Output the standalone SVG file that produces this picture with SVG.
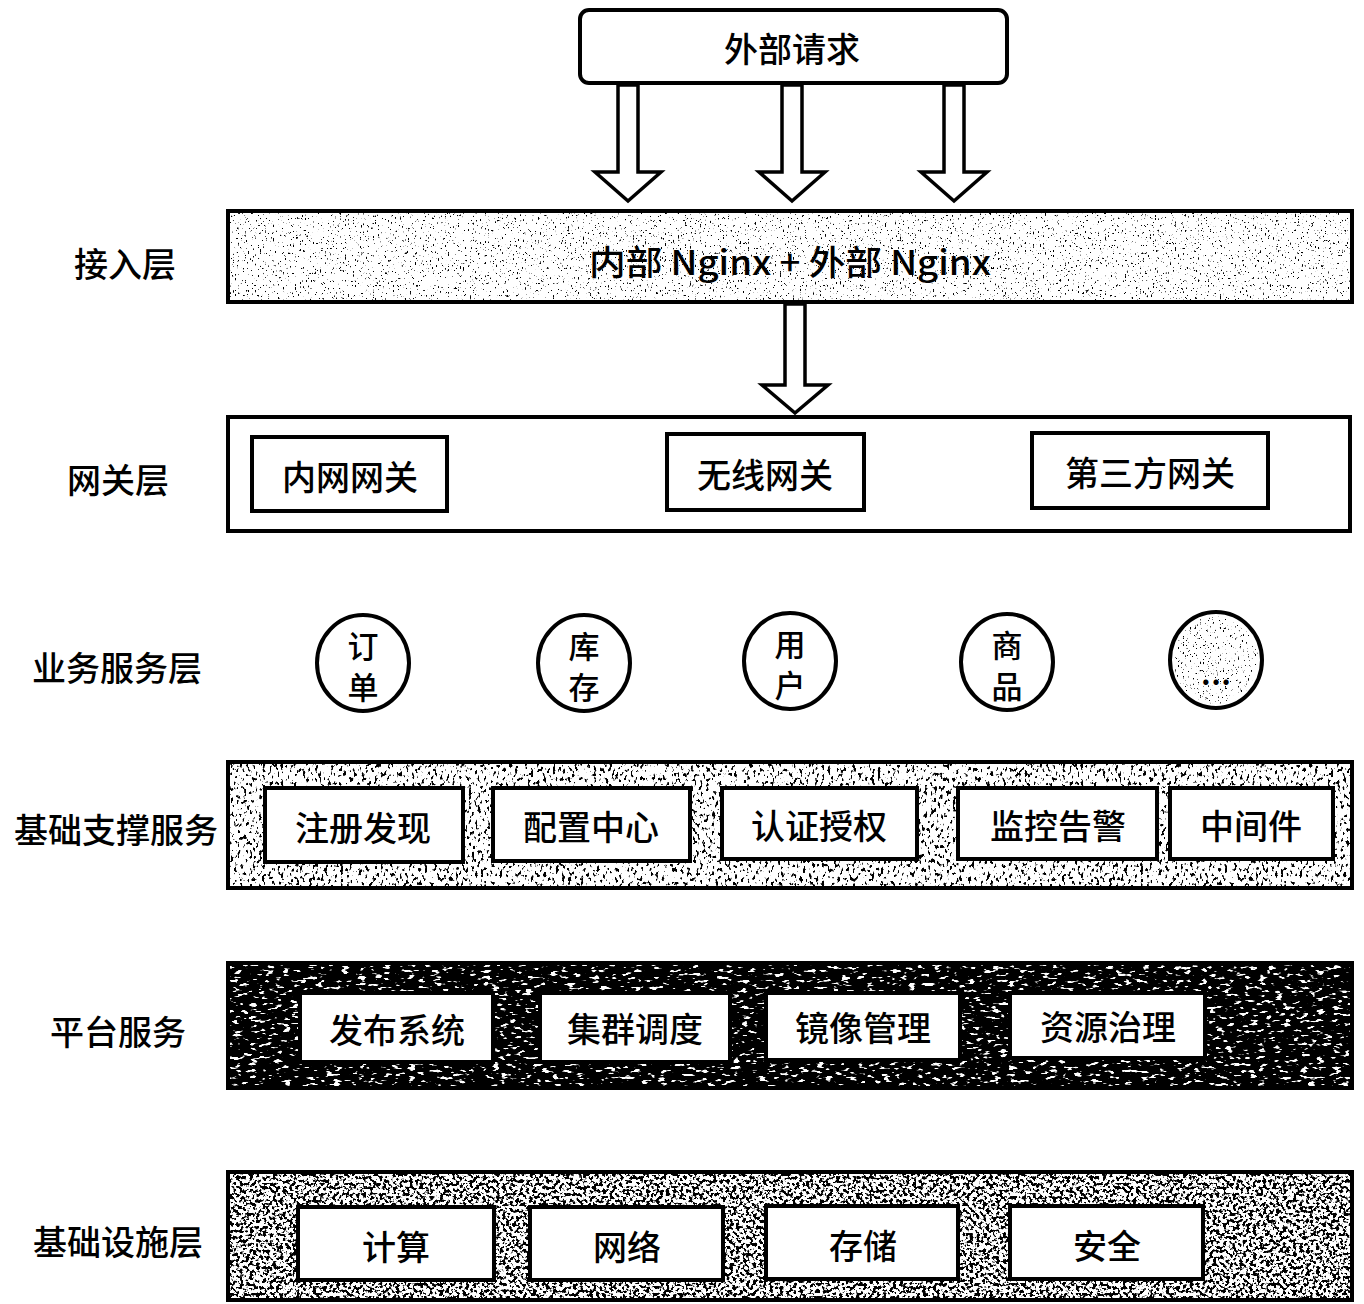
<svg xmlns="http://www.w3.org/2000/svg" width="1364" height="1304" viewBox="0 0 1364 1304">
<defs>
<style>
text{font-family:"Noto Sans CJK SC","Noto Sans",sans-serif;font-size:34px;font-weight:500;fill:#000;text-anchor:middle;dominant-baseline:central}
.band{fill:none;stroke:#000;stroke-width:4}
.box{fill:#fff;stroke:#000;stroke-width:4}
.circ{fill:#fff;stroke:#000;stroke-width:4}
.arrow{fill:#fff;stroke:#000;stroke-width:3.5;stroke-linejoin:miter}
.c{font-size:31px}
</style>
<filter id="nLight" x="0" y="0" width="100%" height="100%">
<feTurbulence type="fractalNoise" baseFrequency="0.6 0.4" numOctaves="2" seed="4"/>
<feColorMatrix type="matrix" values="0 0 0 0 0  0 0 0 0 0  0 0 0 0 0  14 0 0 0 -9.3"/>
<feComposite operator="in" in2="SourceGraphic"/>
</filter>
<filter id="nMed" x="0" y="0" width="100%" height="100%">
<feTurbulence type="fractalNoise" baseFrequency="0.32 0.22" numOctaves="2" seed="9"/>
<feColorMatrix type="matrix" values="0 0 0 0 0  0 0 0 0 0  0 0 0 0 0  14 0 0 0 -8.2"/>
<feComposite operator="in" in2="SourceGraphic"/>
</filter>
<filter id="nDark" x="0" y="0" width="100%" height="100%">
<feTurbulence type="fractalNoise" baseFrequency="0.12 0.3" numOctaves="2" seed="2"/>
<feColorMatrix type="matrix" values="0 0 0 0 0  0 0 0 0 0  0 0 0 0 0  14 0 0 0 -4.6"/>
<feComposite operator="in" in2="SourceGraphic"/>
</filter>
<filter id="nInfra" x="0" y="0" width="100%" height="100%">
<feTurbulence type="fractalNoise" baseFrequency="0.3 0.3" numOctaves="2" seed="7"/>
<feColorMatrix type="matrix" values="0 0 0 0 0  0 0 0 0 0  0 0 0 0 0  14 0 0 0 -7.0"/>
<feComposite operator="in" in2="SourceGraphic"/>
</filter>
</defs>
<rect width="1364" height="1304" fill="#fff"/>

<g id="labels">
<text x="125" y="262">接入层</text>
<text x="118" y="478">网关层</text>
<text x="117" y="666">业务服务层</text>
<text x="116" y="828">基础支撑服务</text>
<text x="118" y="1030">平台服务</text>
<text x="118" y="1240">基础设施层</text>
</g>

<g id="external-request">
<rect x="580" y="10" width="427" height="73" rx="9" class="box" stroke-width="3"/>
<text x="792" y="47">外部请求</text>
</g>

<g id="access-layer">
<rect x="228" y="211" width="1124" height="91" fill="#fff"/>
<rect x="230" y="213" width="1120" height="87" fill="#000" filter="url(#nLight)"/>
<rect x="228" y="211" width="1124" height="91" class="band"/>
<text x="790" y="260" textLength="402" lengthAdjust="spacingAndGlyphs">内部 Nginx + 外部 Nginx</text>
</g>

<g id="gateway-layer">
<rect x="228" y="417" width="1122" height="114" fill="#fff" class="band"/>
<g id="gw-intranet"><rect x="252" y="437" width="195" height="74" class="box"/><text x="350" y="475">内网网关</text></g>
<g id="gw-wireless"><rect x="667" y="434" width="197" height="76" class="box"/><text x="765" y="473">无线网关</text></g>
<g id="gw-thirdparty"><rect x="1032" y="433" width="236" height="75" class="box"/><text x="1150" y="471">第三方网关</text></g>
</g>

<g id="business-layer">
<g id="svc-order"><ellipse cx="363" cy="663" rx="46" ry="48" class="circ"/><text x="363" y="644" class="c">订</text><text x="363" y="685" class="c">单</text></g>
<g id="svc-stock"><ellipse cx="584" cy="663" rx="46" ry="48" class="circ"/><text x="584" y="644" class="c">库</text><text x="584" y="685" class="c">存</text></g>
<g id="svc-user"><ellipse cx="790" cy="661" rx="46" ry="48" class="circ"/><text x="790" y="642" class="c">用</text><text x="790" y="683" class="c">户</text></g>
<g id="svc-goods"><ellipse cx="1007" cy="662" rx="46" ry="48" class="circ"/><text x="1007" y="643" class="c">商</text><text x="1007" y="684" class="c">品</text></g>
<g id="svc-more"><ellipse cx="1216" cy="660" rx="46" ry="48" class="circ"/><ellipse cx="1216" cy="660" rx="42" ry="44" fill="#000" filter="url(#nLight)"/><text x="1216" y="670" font-size="16">...</text></g>
</g>

<g id="support-layer">
<rect x="228" y="762" width="1124" height="126" fill="#fff"/>
<rect x="230" y="764" width="1120" height="122" fill="#000" filter="url(#nMed)"/>
<rect x="228" y="762" width="1124" height="126" class="band"/>
<g id="sup-registry"><rect x="265" y="788" width="198" height="74" class="box"/><text x="363" y="826">注册发现</text></g>
<g id="sup-config"><rect x="493" y="788" width="197" height="73" class="box"/><text x="591" y="825">配置中心</text></g>
<g id="sup-auth"><rect x="722" y="788" width="195" height="71" class="box"/><text x="819" y="824">认证授权</text></g>
<g id="sup-monitor"><rect x="958" y="788" width="199" height="71" class="box"/><text x="1058" y="824">监控告警</text></g>
<g id="sup-middleware"><rect x="1170" y="788" width="163" height="71" class="box"/><text x="1251" y="824">中间件</text></g>
</g>

<g id="platform-layer">
<rect x="228" y="963" width="1124" height="125" fill="#fff"/>
<rect x="230" y="965" width="1120" height="121" fill="#000" filter="url(#nDark)"/>
<rect x="228" y="963" width="1124" height="125" class="band"/>
<g id="pf-release"><rect x="300" y="993" width="193" height="69" class="box"/><text x="397" y="1028">发布系统</text></g>
<g id="pf-cluster"><rect x="540" y="993" width="190" height="69" class="box"/><text x="635" y="1027">集群调度</text></g>
<g id="pf-image"><rect x="766" y="993" width="194" height="67" class="box"/><text x="863" y="1026">镜像管理</text></g>
<g id="pf-resource"><rect x="1010" y="993" width="195" height="65" class="box"/><text x="1108" y="1025">资源治理</text></g>
</g>

<g id="infra-layer">
<rect x="228" y="1172" width="1124" height="128" fill="#fff"/>
<rect x="230" y="1174" width="1120" height="124" fill="#000" filter="url(#nInfra)"/>
<rect x="228" y="1172" width="1124" height="128" class="band"/>
<g id="inf-compute"><rect x="298" y="1207" width="196" height="73" class="box"/><text x="396" y="1245">计算</text></g>
<g id="inf-network"><rect x="530" y="1207" width="193" height="73" class="box"/><text x="627" y="1245">网络</text></g>
<g id="inf-storage"><rect x="766" y="1206" width="192" height="73" class="box"/><text x="863" y="1244">存储</text></g>
<g id="inf-security"><rect x="1010" y="1206" width="193" height="73" class="box"/><text x="1107" y="1244">安全</text></g>
</g>

<g id="connectors">
<polygon class="arrow" points="618,85 638,85 638,172 661,172 628,201 595,172 618,172"/>
<polygon class="arrow" points="782,85 802,85 802,172 825,172 792,201 759,172 782,172"/>
<polygon class="arrow" points="944,85 964,85 964,172 987,172 954,201 921,172 944,172"/>
<polygon class="arrow" points="785,304 805,304 805,385 828,385 795,413 762,385 785,385"/>
</g>
</svg>
